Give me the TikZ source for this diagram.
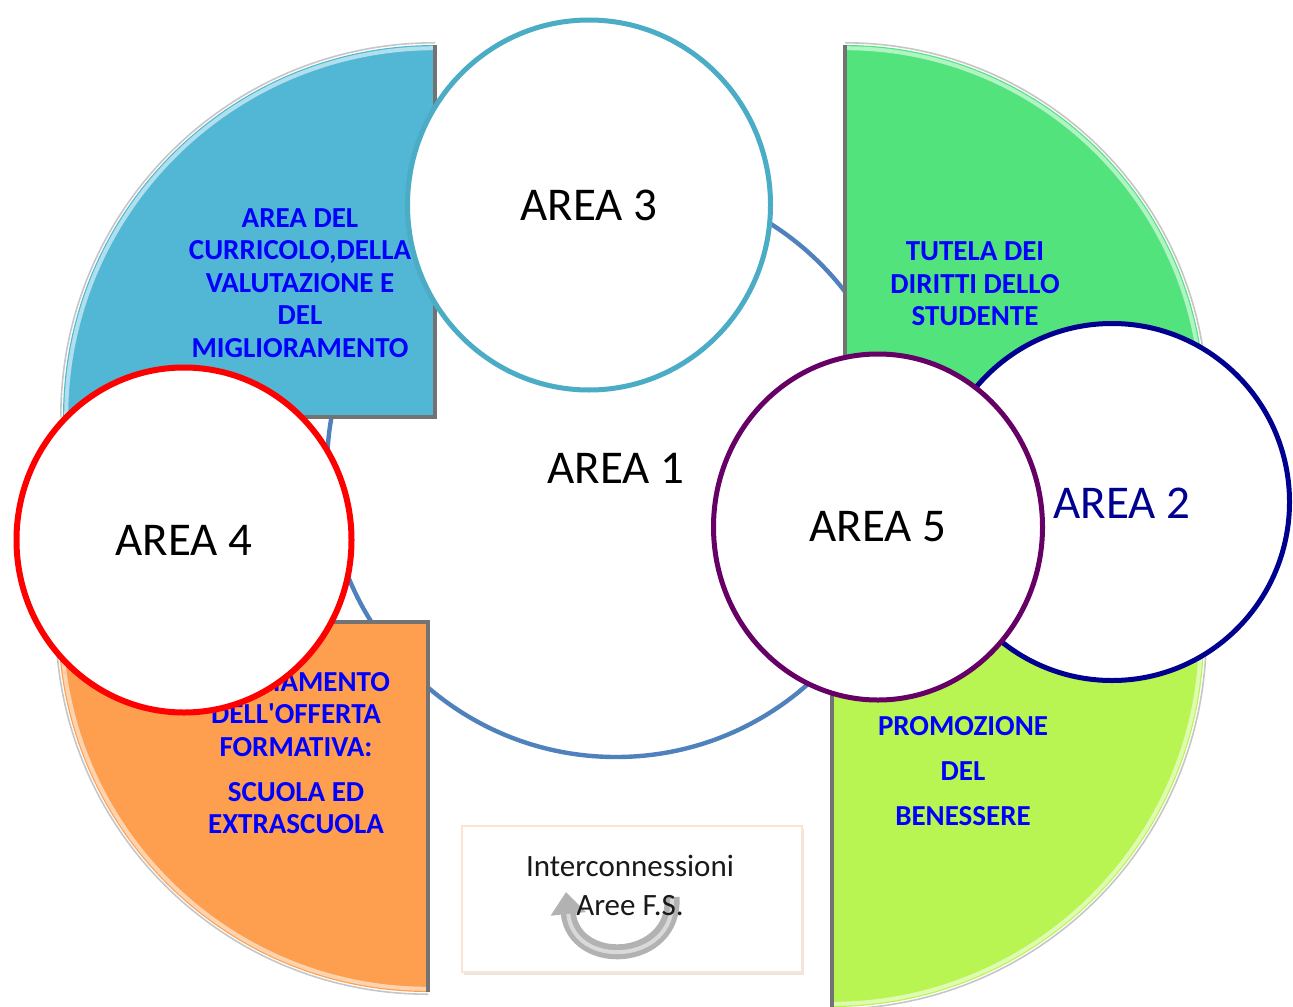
\documentclass[tikz,border=0pt]{standalone}
\usepackage{fontspec}
\setmainfont{Carlito}
\usetikzlibrary{shapes,calc,arrows.meta,shadows}

\definecolor{qblue}{RGB}{82,183,213}
\definecolor{qgreen}{RGB}{82,227,124}
\definecolor{qorange}{RGB}{254,159,80}
\definecolor{qlime}{RGB}{184,245,82}
\definecolor{txtblue}{RGB}{0,0,255}
\definecolor{ring1}{RGB}{79,129,189}
\definecolor{ring3}{RGB}{75,172,198}
\definecolor{ring5}{RGB}{102,0,102}
\definecolor{ring2}{RGB}{0,0,144}
\definecolor{boxline}{RGB}{252,228,211}

% quarter disc with bevel: corner, start angle, end angle, radius (pt), colour
\newcommand{\petal}[5]{%
  \pgfmathsetmacro{\rin}{#4-1.6}
  \pgfmathsetmacro{\rout}{#4+1.1}
  \fill[#5] (#1) -- +(#2:#4pt) arc[start angle=#2, end angle=#3, radius=#4pt] -- cycle;
  \draw[#5!45!white, line width=2pt] ($(#1)+(#2:\rin pt)$) arc[start angle=#2, end angle=#3, radius=\rin pt];
  \draw[gray!45, line width=0.8pt] ($(#1)+(#2:\rout pt)$) arc[start angle=#2, end angle=#3, radius=\rout pt];
  \draw[black!55, line width=1.8pt] ($(#1)+(#2:#4pt)$) -- (#1) -- ($(#1)+(#3:#4pt)$);
}

\begin{document}
\begin{tikzpicture}[x=0.5pt, y=-0.5pt,
    area/.style={ellipse, draw, fill=white, line width=2.5pt, inner sep=0pt,
                 font=\fontsize{23.5}{28}\selectfont},
    petaltext/.style={text=txtblue, align=center,
                 font=\bfseries\fontsize{14.5}{16.25}\selectfont}]
\useasboundingbox (0,0) rectangle (1293,1006);

\begin{scope}
    % the ring of area 1 lies under the four quarters
    \node [area, circle, draw=ring1, line width=2.2pt, minimum size=289pt] (a1) at (616,468) {AREA 1};

    \petal{435,417}{180}{90}{186}{qblue}
    \petal{845,405}{90}{0}{180}{qgreen}
    \petal{832,635}{0}{-90}{186}{qlime}
    \petal{428,622}{-90}{-180}{185}{qorange}

    \node [petaltext] (t1) at (300,283) {AREA DEL\\CURRICOLO,DELLA\\VALUTAZIONE E\\DEL\\MIGLIORAMENTO};
    \node [petaltext] (t2) at (975,284) {TUTELA DEI\\DIRITTI DELLO\\STUDENTE};
    \node [petaltext] (t3) at (963,771) {PROMOZIONE\\[6.25pt]DEL\\[6.25pt]BENESSERE};
    \node [petaltext] (t4) at (296,753) {AMPLIAMENTO\\DELL\textquotesingle OFFERTA\\FORMATIVA:\\[6.25pt]SCUOLA ED\\EXTRASCUOLA};

    \node [area, draw=ring3, minimum width=181.5pt, minimum height=185pt] (a3) at (589,205) {AREA 3};
    \node [area, draw=red, line width=3pt, minimum width=167.5pt, minimum height=172.5pt] (a4) at (184,540) {AREA 4};
    \node [area, draw=ring2, minimum width=177.5pt, minimum height=178.5pt] (a2) at (1112,502) {};
    \node [area, draw=none, fill=none, text=ring2] (a2t) at ([xshift=5pt,yshift=-0.5pt]a2.center) {AREA 2};
    \node [area, draw=ring5, minimum width=164.5pt, minimum height=173pt] (a5) at (878,527) {AREA 5};

    % legend box
    \node [draw=boxline, line width=1pt, fill=white, minimum width=170pt, minimum height=73pt,
           drop shadow={opacity=0.2, shadow xshift=1pt, shadow yshift=-1.5pt}] (fs) at (632,899) {};
    \coordinate (arrR) at (672,897);
    \coordinate (arrL) at (566,892);
    \draw [line width=7.5pt, gray!60, -{Triangle[width=17pt,length=11pt]}] (arrR) .. controls (676,964) and (574,970) .. (arrL);
    \draw [line width=2pt, white!70!gray, shorten >=11pt, shorten <=1pt] (arrR) .. controls (676,964) and (574,970) .. (arrL);
    \node [font=\fontsize{15.5}{19.5}\selectfont, text=black!90, align=center] (fst) at (630,885) {Interconnessioni\\Aree F.S.};
\end{scope}
\end{tikzpicture}
\end{document}
